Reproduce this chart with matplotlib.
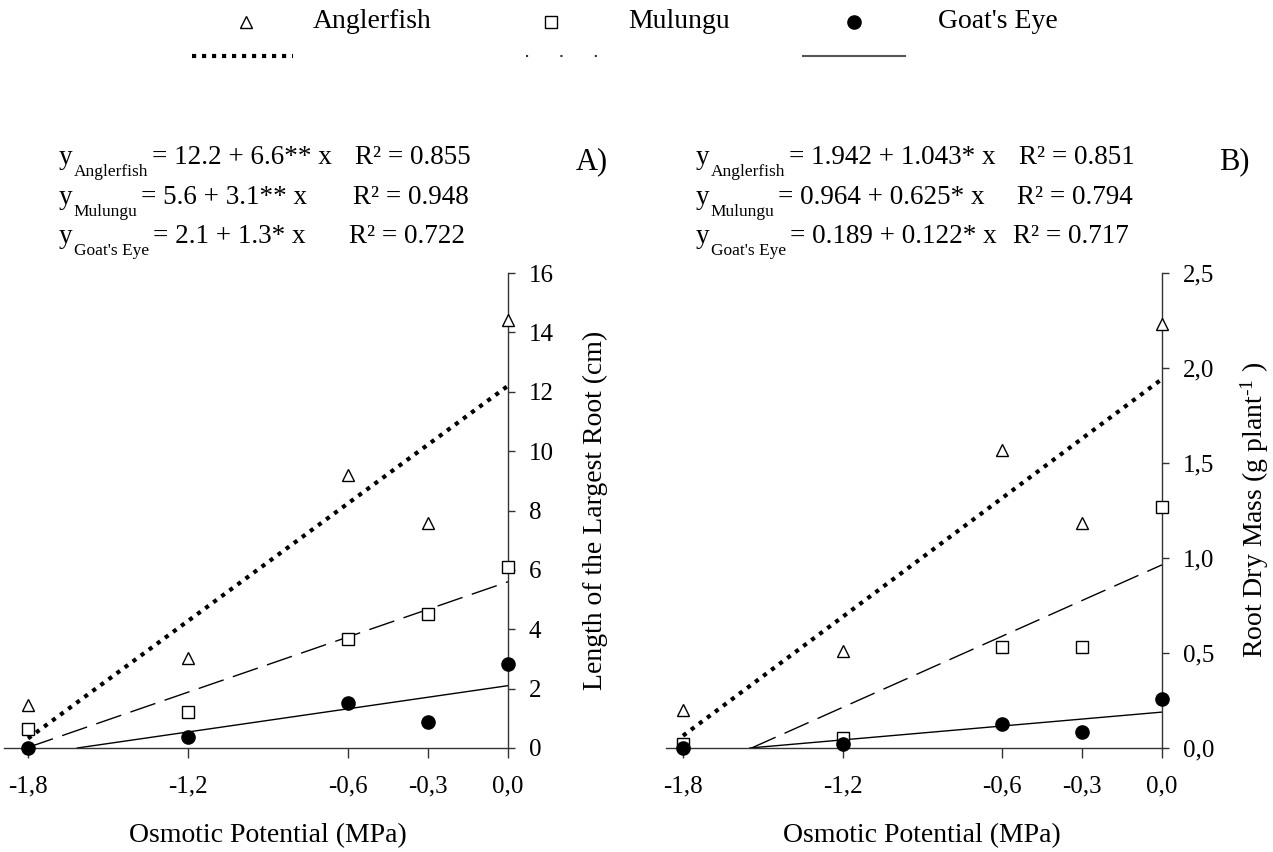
import numpy as np
import matplotlib
matplotlib.use('Agg')
import matplotlib.pyplot as plt
from matplotlib.lines import Line2D

plt.rcParams['font.family'] = ['Liberation Serif', 'DejaVu Serif']
plt.rcParams['mathtext.fontset'] = 'custom'
plt.rcParams['mathtext.rm'] = 'Liberation Serif'
plt.rcParams['mathtext.it'] = 'Liberation Serif:italic'

W, H = 1273, 852

species = ['Anglerfish', 'Mulungu', "Goat's Eye"]
potential = [-1.8, -1.2, -0.6, -0.3, 0.0]
xtick_labels = ['-1,8', '-1,2', '-0,6', '-0,3', '0,0']

# A) length of the largest root (cm)
len_angler = [1.45, 3.03, 9.18, 7.58, 14.41]
len_mulungu = [0.63, 1.22, 3.67, 4.51, 6.09]
len_goat = [0.0, 0.38, 1.50, 0.87, 2.83]
len_a = [12.2, 5.6, 2.1]
len_b = [6.6, 3.1, 1.3]
len_stars = ['**', '**', '*']
len_r2 = ['0.855', '0.948', '0.722']
len_yticks = [0, 2, 4, 6, 8, 10, 12, 14, 16]

# B) root dry mass (g plant-1)
mass_angler = [0.198, 0.508, 1.570, 1.185, 2.234]
mass_mulungu = [0.02, 0.053, 0.531, 0.531, 1.27]
mass_goat = [0.0, 0.02, 0.127, 0.083, 0.26]
mass_a = [1.942, 0.964, 0.189]
mass_b = [1.043, 0.625, 0.122]
mass_stars = ['*', '*', '*']
mass_r2 = ['0.851', '0.794', '0.717']
mass_yticks = [0.0, 0.5, 1.0, 1.5, 2.0, 2.5]
mass_yticklabels = ['0,0', '0,5', '1,0', '1,5', '2,0', '2,5']

markers = [dict(marker='^', mfc='white', mec='black', ms=9, mew=1.0),
           dict(marker='s', mfc='white', mec='black', ms=8.5, mew=1.0),
           dict(marker='o', mfc='black', mec='black', ms=9.5)]
lines = [dict(lw=3.0, ls=(0, (1, 1.4)), color='black'),
         dict(lw=1.0, ls=(0, (19, 7)), color='black'),
         dict(lw=1.0, ls='-', color='black')]

fig = plt.figure(figsize=(W / 100, H / 100), dpi=100)
renderer = fig.canvas.get_renderer()


def fx(px):
    return px / W


def fy(py):
    return 1 - py / H


def panel(left_px, x0_px, x1_px, ymax, series, a, b, yticks, yticklabels):
    # axis placed so that -1.8 sits at x0_px and 0.0 at x1_px
    scale = (x1_px - x0_px) / 1.8
    xmin = -(x1_px - left_px) / scale
    ax = fig.add_axes([fx(left_px), fy(748), (x1_px - left_px) / W, 475 / H])
    ax.set_xlim(xmin, 0)
    ax.set_ylim(0, ymax)
    for i in range(3):
        start = max(-1.8, -a[i] / b[i])
        xs = np.array([start, 0.0])
        ax.plot(xs, a[i] + b[i] * xs, zorder=2, **lines[i])
        ax.plot(potential, series[i], ls='none', zorder=3, clip_on=False, **markers[i])
    for s in ['left', 'top']:
        ax.spines[s].set_visible(False)
    for s in ['right', 'bottom']:
        ax.spines[s].set_color('#333333')
        ax.spines[s].set_linewidth(1.0)
    ax.yaxis.tick_right()
    ax.set_xticks(potential)
    ax.set_xticklabels(xtick_labels)
    ax.set_yticks(yticks)
    ax.set_yticklabels(yticklabels)
    ax.tick_params(axis='x', direction='out', length=7, width=1, color='#333333',
                   pad=13, labelsize=18)
    ax.tick_params(axis='y', direction='out', length=5, width=1, color='#333333',
                   pad=10, labelsize=18)
    ax.patch.set_alpha(0)
    return ax


axA = panel(4, 28, 508, 16, [len_angler, len_mulungu, len_goat], len_a, len_b,
            len_yticks, [str(v) for v in len_yticks])
axB = panel(666, 683, 1162, 2.5, [mass_angler, mass_mulungu, mass_goat], mass_a, mass_b,
            mass_yticks, mass_yticklabels)

# axis titles
fig.text(fx(268), fy(836), 'Osmotic Potential (MPa)', ha='center', va='center', fontsize=20)
fig.text(fx(922), fy(836), 'Osmotic Potential (MPa)', ha='center', va='center', fontsize=20)
fig.text(fx(595), fy(510), 'Length of the Largest Root (cm)', rotation=90,
         ha='center', va='center', fontsize=20)
fig.text(fx(1255), fy(510), r'Root Dry Mass (g plant$^{\text{-1}}$ )', rotation=90,
         ha='center', va='center', fontsize=20)


def width_px(t):
    return t.get_window_extent(renderer).width


def equation(x, base, sub, rest, r2x, r2):
    t = fig.text(fx(x), fy(base), 'y', fontsize=19.5, va='baseline')
    x += width_px(t) + 1
    t = fig.text(fx(x), fy(base + 12), sub, fontsize=12.5, va='baseline')
    x += width_px(t) + 4
    fig.text(fx(x), fy(base), rest, fontsize=19.5, va='baseline')
    fig.text(fx(r2x), fy(base), 'R² = ' + r2, fontsize=19.5, va='baseline')


# regression equations
rows = [164, 204, 243]
r2_x_A = [355, 353, 349]
r2_x_B = [1019, 1017, 1013]
for i in range(3):
    equation(59, rows[i], species[i], '= %s + %s%s x' % (len_a[i], len_b[i], len_stars[i]),
             r2_x_A[i], len_r2[i])
    equation(696, rows[i], species[i], '= %.3f + %.3f%s x' % (mass_a[i], mass_b[i], mass_stars[i]),
             r2_x_B[i], mass_r2[i])

fig.text(fx(592), fy(162), 'A)', ha='center', va='center', fontsize=22)
fig.text(fx(1234), fy(162), 'B)', ha='center', va='center', fontsize=22)

# legend at the top
leg_marker_x = [246, 551, 854]
leg_text_x = [313, 628, 938]
for i in range(3):
    fig.add_artist(Line2D([fx(leg_marker_x[i])], [fy(22)], transform=fig.transFigure,
                          ls='none', **markers[i]))
    fig.text(fx(leg_text_x[i]), fy(22), species[i], ha='left', va='center', fontsize=20)
fig.add_artist(Line2D([fx(192), fx(293)], [fy(55.7)] * 2, transform=fig.transFigure,
                      lw=3.0, ls=(0, (1, 1.4)), color='black'))
fig.add_artist(Line2D([fx(526), fx(597)], [fy(55.7)] * 2, transform=fig.transFigure,
                      lw=1.5, ls=(0, (1, 15.5)), color='#333333'))
fig.add_artist(Line2D([fx(803), fx(905)], [fy(55.7)] * 2, transform=fig.transFigure,
                      lw=1.5, ls='-', color='#555555'))

fig.savefig('out.png', dpi=100)
